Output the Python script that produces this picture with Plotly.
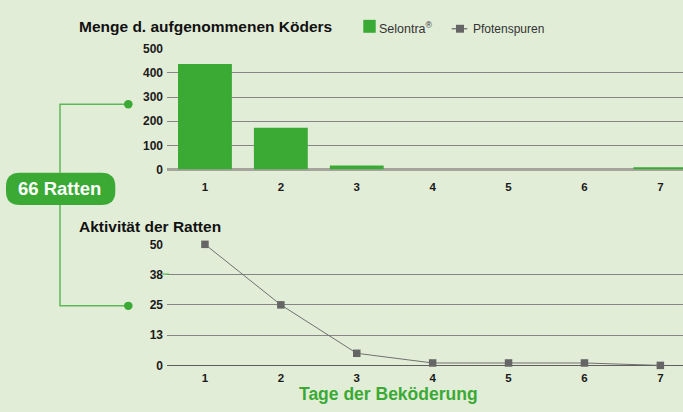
import plotly.graph_objects as go

W, H = 683, 412

days = [1, 2, 3, 4, 5, 6, 7]
day_labels = ["1", "2", "3", "4", "5", "6", "7"]
bait_eaten = [437, 173, 17, 0, 0, 0, 10]
paw_prints = [50, 25, 5, 1, 1, 1, 0]
bait_ticks = [0, 100, 200, 300, 400, 500]
bait_tick_text = ["0", "100", "200", "300", "400", "500"]
activity_ticks = [0, 12.5, 25, 37.5, 50]
activity_tick_text = ["0", "13", "25", "38", "50"]
series_names = ["Selontra<sup>®</sup>", "Pfotenspuren"]

BG = "#e2edd8"
GREEN = "#3aaa35"
LINE_GREEN = "#5cb957"
GRID = "#858585"
MARK = "#656565"
FONT = "Liberation Sans, Arial, sans-serif"


def px(x):
    return x / W


def py(y):
    return 1 - y / H


fig = go.Figure()

fig.add_trace(go.Bar(
    x=days, y=bait_eaten, name=series_names[0],
    marker=dict(color=GREEN, line=dict(width=0)), width=0.71,
    xaxis="x", yaxis="y", showlegend=False,
))
fig.add_trace(go.Scatter(
    x=days, y=paw_prints, name=series_names[1], mode="lines+markers",
    line=dict(color="#707070", width=1),
    marker=dict(symbol="square", size=7.5, color=MARK),
    xaxis="x2", yaxis="y2", cliponaxis=False, showlegend=False,
))

x_left = 167
unit = 75.9
x_range = [0.5, 0.5 + (W - x_left) / unit]

tickfont = dict(family=FONT, size=12, color="#1a1a1a")
xtickfont = dict(family=FONT, size=11.5, color="#1a1a1a")
bold = lambda lst: [f"<b>{t}</b>" for t in lst]

fig.update_layout(
    width=W, height=H,
    margin=dict(l=0, r=0, t=0, b=0),
    paper_bgcolor=BG, plot_bgcolor=BG,
    font=dict(family=FONT, color="#1a1a1a"),
    showlegend=False,
    xaxis=dict(
        domain=[px(x_left), 1], range=x_range, anchor="y",
        tickvals=days, ticktext=bold(day_labels), tickfont=xtickfont,
        showgrid=False, zeroline=False, showline=False, ticks="",
        ticklabelstandoff=9,
    ),
    yaxis=dict(
        domain=[py(168.3), py(43.3)], range=[0, 500], anchor="x",
        tickvals=bait_ticks, ticktext=bold(bait_tick_text), tickfont=tickfont,
        showgrid=True, gridcolor=GRID, gridwidth=1.3,
        zeroline=True, zerolinecolor="#a5a59c", zerolinewidth=2.5,
        showline=False, ticks="", ticklabelstandoff=3,
    ),
    xaxis2=dict(
        domain=[px(x_left), 1], range=x_range, anchor="y2",
        tickvals=days, ticktext=bold(day_labels), tickfont=xtickfont,
        showgrid=False, zeroline=False, showline=False, ticks="",
        ticklabelstandoff=4,
    ),
    yaxis2=dict(
        domain=[py(371), py(245.7)], range=[0, 50], anchor="x2",
        tickvals=activity_ticks, ticktext=bold(activity_tick_text), tickfont=tickfont,
        showgrid=True, gridcolor=GRID, gridwidth=1.3,
        zeroline=True, zerolinecolor="#5e5e5e", zerolinewidth=1.3,
        showline=False, ticks="", ticklabelstandoff=3,
    ),
)

# Rounded "66 Ratten" box
x0, x1, y0, y1, r = 6, 115.3, 171.7, 205, 14
path = (
    f"M {px(x0 + r)},{py(y0)} L {px(x1 - r)},{py(y0)} "
    f"Q {px(x1)},{py(y0)} {px(x1)},{py(y0 + r)} "
    f"L {px(x1)},{py(y1 - r)} Q {px(x1)},{py(y1)} {px(x1 - r)},{py(y1)} "
    f"L {px(x0 + r)},{py(y1)} Q {px(x0)},{py(y1)} {px(x0)},{py(y1 - r)} "
    f"L {px(x0)},{py(y0 + r)} Q {px(x0)},{py(y0)} {px(x0 + r)},{py(y0)} Z"
)
shapes = [
    dict(type="path", xref="paper", yref="paper", path=path,
         fillcolor=GREEN, line=dict(width=0), layer="above"),
    # connectors
    dict(type="path", xref="paper", yref="paper",
         path=f"M {px(60)},{py(171.7)} L {px(60)},{py(100.7)} L {px(128)},{py(100.7)}",
         line=dict(color=LINE_GREEN, width=1.5)),
    dict(type="path", xref="paper", yref="paper",
         path=f"M {px(60)},{py(205)} L {px(60)},{py(309.3)} L {px(128)},{py(309.3)}",
         line=dict(color=LINE_GREEN, width=1.5)),
    dict(type="circle", xref="paper", yref="paper",
         x0=px(124), x1=px(132.6), y0=py(105), y1=py(96.4),
         fillcolor=GREEN, line=dict(width=0)),
    dict(type="circle", xref="paper", yref="paper",
         x0=px(124), x1=px(132.6), y0=py(313.6), y1=py(305),
         fillcolor=GREEN, line=dict(width=0)),
    # small green stub beside the "38" label
    dict(type="line", xref="paper", yref="paper",
         x0=px(162.5), x1=px(169), y0=py(276.5), y1=py(276.5),
         line=dict(color=LINE_GREEN, width=1.3)),
    # legend key: Selontra
    dict(type="rect", xref="paper", yref="paper",
         x0=px(363.3), x1=px(375.7), y0=py(26.7), y1=py(13.3),
         fillcolor=GREEN, line=dict(width=0)),
    # legend key: Pfotenspuren
    dict(type="line", xref="paper", yref="paper",
         x0=px(451.7), x1=px(467.3), y0=py(22.5), y1=py(22.5),
         line=dict(color="#707070", width=1.3)),
    dict(type="rect", xref="paper", yref="paper",
         x0=px(456), x1=px(464), y0=py(26.6), y1=py(18.4),
         fillcolor=MARK, line=dict(width=0)),
]
fig.update_layout(shapes=shapes)

annotations = [
    dict(text="<b>66 Ratten</b>", x=px(59.5), y=py(188.4), xref="paper", yref="paper",
         showarrow=False, font=dict(family=FONT, size=18.5, color="white"),
         xanchor="center", yanchor="middle"),
    dict(text="<b>Menge d. aufgenommenen Köders</b>", x=px(77), y=py(20.3),
         xref="paper", yref="paper", showarrow=False,
         font=dict(family=FONT, size=15.5, color="#111111"),
         xanchor="left", yanchor="middle"),
    dict(text="<b>Aktivität der Ratten</b>", x=px(76.5), y=py(227.3),
         xref="paper", yref="paper", showarrow=False,
         font=dict(family=FONT, size=15.5, color="#111111"),
         xanchor="left", yanchor="middle"),
    dict(text="<b>Tage der Beköderung</b>", x=px(388.5), y=py(400.5),
         xref="paper", yref="paper", showarrow=False,
         font=dict(family=FONT, size=17.5, color=GREEN),
         xanchor="center", yanchor="middle"),
    dict(text=series_names[0], x=px(376.5), y=py(22),
         xref="paper", yref="paper", showarrow=False,
         font=dict(family=FONT, size=12.5, color="#333333"),
         xanchor="left", yanchor="middle"),
    dict(text=series_names[1], x=px(471.5), y=py(22.5),
         xref="paper", yref="paper", showarrow=False,
         font=dict(family=FONT, size=12, color="#333333"),
         xanchor="left", yanchor="middle"),
]
fig.update_layout(annotations=annotations)

post = (
    "var s=document.createElement('style');"
    "s.textContent='html,body{margin:0!important;padding:0!important;overflow:hidden!important;"
    "width:683px;height:412px;}';"
    "document.head.appendChild(s);"
)

fig.write_html(
    "out.html",
    config={"displayModeBar": False},
    post_script=post,
)
